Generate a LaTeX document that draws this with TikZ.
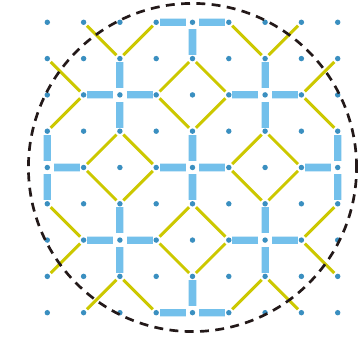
\documentclass[tikz,border=0pt]{standalone}
\usepackage{tikz}
\usetikzlibrary{positioning}

\definecolor{dotblue}{RGB}{58,143,192}
\definecolor{barblue}{RGB}{115,192,235}
\definecolor{barrim}{RGB}{205,232,247}
\definecolor{diagyellow}{RGB}{204,200,0}
\definecolor{rimdark}{RGB}{35,25,25}

\begin{document}
\begin{tikzpicture}[
    dot/.style={circle, fill=dotblue, inner sep=0pt, minimum size=0.15cm},
    bar/.style={draw=barrim, line width=0.4pt, double=barblue, double distance=5.6pt, shorten <=0.11cm, shorten >=0.015cm},
    diag/.style={draw=diagyellow, line width=2.3pt, shorten <=0.05cm, shorten >=0.05cm},
    rim/.style={draw=rimdark, line width=2.1pt, dash pattern=on 7pt off 5pt},
]
\useasboundingbox (-1.303,-0.7245) rectangle (8.697,8.614);
% grid of dots, d-column-row, row 0 on top
\foreach \i in {0,...,8}
  \foreach \j in {0,...,8}
    \node[dot] (d-\i-\j) at (\i,8-\j) {};
% blue crosses
\foreach \cx/\cy in {4/0,2/2,6/2,0/4,4/4,8/4,2/6,6/6,4/8}
  \foreach \dx/\dy in {1/0,-1/0,0/1,0/-1} {
    \pgfmathtruncatemacro\ax{\cx+\dx}
    \pgfmathtruncatemacro\ay{\cy+\dy}
    \ifnum\ax>-1 \ifnum\ax<9 \ifnum\ay>-1 \ifnum\ay<9
      \draw[bar] (d-\cx-\cy) -- (d-\ax-\ay);
    \fi\fi\fi\fi
  }
% yellow V's leaving each arm end
\foreach \cx/\cy in {2/2,6/2,2/6,6/6}
  \foreach \dx/\dy in {1/0,-1/0,0/1,0/-1} {
    \pgfmathtruncatemacro\ax{\cx+\dx}
    \pgfmathtruncatemacro\ay{\cy+\dy}
    \pgfmathtruncatemacro\px{\ax+\dx+\dy}
    \pgfmathtruncatemacro\py{\ay+\dy+\dx}
    \pgfmathtruncatemacro\qx{\ax+\dx-\dy}
    \pgfmathtruncatemacro\qy{\ay+\dy-\dx}
    \draw[diag] (d-\ax-\ay) -- (d-\px-\py);
    \draw[diag] (d-\ax-\ay) -- (d-\qx-\qy);
  }
\draw[rim] (d-4-4) circle (4.52);
\end{tikzpicture}
\end{document}
